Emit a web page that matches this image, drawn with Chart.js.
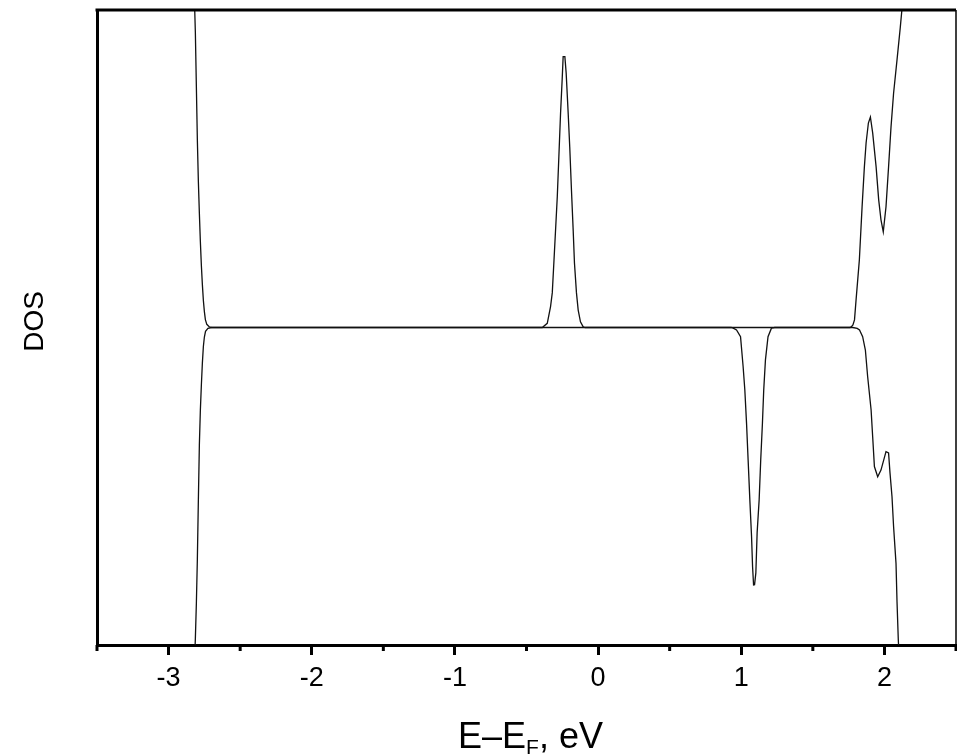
<!DOCTYPE html>
<html>
<head>
<meta charset="utf-8">
<script src="https://cdn.jsdelivr.net/npm/chart.js@4.4.0/dist/chart.umd.min.js"></script>
<style>
  html, body { margin: 0; padding: 0; background: #fff; overflow: hidden; }
  #wrap { width: 957px; height: 756px; position: relative; }
  canvas { display: block; }
</style>
</head>
<body>
<div id="wrap"><canvas id="dos"></canvas></div>
<script>
// x axis: energy relative to Fermi level, eV
const X_MIN = -3.5, X_MAX = 2.5, X_STEP = 0.5;
const Y_MIN = -10, Y_MAX = 10;   // DOS in arbitrary units, no labels shown
const xTickLabels = ['-3', '-2', '-1', '0', '1', '2'];

// spin up (positive)
const upE = [-2.830, -2.813, -2.806, -2.799, -2.792, -2.785, -2.778, -2.771, -2.764, -2.757,
  -2.750, -2.743, -2.733, -2.715, -2.698,
  -0.390, -0.355, -0.332, -0.320, -0.309, -0.297, -0.285, -0.274, -0.262, -0.251,
  -0.244, -0.232, -0.223, -0.209, -0.198, -0.186, -0.174, -0.165, -0.151, -0.139,
  -0.123, -0.104, -0.090,
  1.760, 1.768, 1.780, 1.791, 1.802, 1.825, 1.844, 1.860, 1.872, 1.888, 1.902,
  1.918, 1.942, 1.960, 1.976, 1.992, 2.011, 2.029, 2.046, 2.064, 2.088, 2.111, 2.122, 2.140];
const upDos = [12, 9.3, 7.6, 5.9, 4.6, 3.6, 2.7, 1.95, 1.35, 0.85,
  0.5, 0.25, 0.1, 0.02, 0,
  0, 0.13, 0.66, 1.09, 2.03, 3.07, 4.12, 5.38, 6.76, 7.80,
  8.53, 8.53, 8.02, 6.76, 5.69, 4.33, 3.07, 2.03, 1.09, 0.55,
  0.18, 0.02, 0,
  0, 0.02, 0.08, 0.24, 0.87, 2.13, 3.80, 5.06, 5.81, 6.44, 6.63,
  6.13, 5.06, 4.02, 3.39, 3.01, 3.80, 5.06, 6.31, 7.38, 8.43, 9.46, 10.0, 11.0];

// spin down (negative)
const downE = [-2.830, -2.813, -2.806, -2.799, -2.792, -2.785, -2.778, -2.771, -2.764, -2.757,
  -2.750, -2.742, -2.725, -2.698,
  0.930, 0.944, 0.967, 0.995, 1.013, 1.025, 1.037, 1.048, 1.060, 1.072, 1.079, 1.086,
  1.093, 1.102, 1.111, 1.125, 1.136, 1.148, 1.157, 1.169, 1.187, 1.211, 1.234,
  1.779, 1.810, 1.826, 1.848, 1.867, 1.883, 1.907, 1.918, 1.930, 1.953, 1.976,
  2.011, 2.029, 2.039, 2.053, 2.064, 2.081, 2.088, 2.097, 2.110];
const downDos = [-12, -9.8, -8.7, -7.3, -5.43, -3.7, -2.6, -1.81, -1.12, -0.6,
  -0.3, -0.12, -0.03, 0,
  0, -0.02, -0.08, -0.29, -1.23, -1.97, -3.02, -4.17, -5.43, -6.59, -7.53, -8.11,
  -8.1, -7.73, -6.46, -5.43, -4.17, -3.01, -1.97, -1.02, -0.29, -0.02, 0,
  0, -0.03, -0.08, -0.29, -0.71, -1.55, -2.60, -3.44, -4.38, -4.70, -4.49,
  -3.91, -3.95, -4.58, -5.33, -6.27, -7.43, -8.64, -9.84, -11];

const toPts = (xs, ys) => xs.map((x, i) => ({ x: x, y: ys[i] }));
const FONT = 'Liberation Sans, Arial, sans-serif';

// frame, minor ticks and axis titles
const decor = {
  id: 'decor',
  afterDraw(chart) {
    const { ctx, chartArea: a, scales: { x } } = chart;
    ctx.save();
    ctx.strokeStyle = '#000';
    ctx.lineWidth = 3;
    ctx.beginPath();
    ctx.moveTo(a.left - 1.5, a.top);
    ctx.lineTo(a.right, a.top);
    ctx.stroke();
    ctx.lineWidth = 1.5;
    ctx.beginPath();
    ctx.moveTo(a.right, a.top);
    ctx.lineTo(a.right, a.bottom + 6);
    ctx.stroke();
    // minor ticks at half steps
    ctx.lineWidth = 3;
    x.ticks.forEach(t => {
      if (Number.isInteger(t.value)) return;
      const px = x.getPixelForValue(t.value);
      ctx.beginPath();
      ctx.moveTo(px, a.bottom);
      ctx.lineTo(px, a.bottom + 6);
      ctx.stroke();
    });
    // x title with subscript
    ctx.fillStyle = '#000';
    ctx.textBaseline = 'alphabetic';
    ctx.textAlign = 'left';
    const big = '36px ' + FONT, small = '21px ' + FONT;
    ctx.font = big;
    const w1 = ctx.measureText('E\u2013E').width;
    const w3 = ctx.measureText(', eV').width;
    ctx.font = small;
    const w2 = ctx.measureText('F').width;
    let sx = (a.left + a.right) / 2 + 4 - (w1 + w2 + w3) / 2;
    const by = 748;
    ctx.font = big; ctx.fillText('E\u2013E', sx, by); sx += w1;
    ctx.font = small; ctx.fillText('F', sx, by + 6); sx += w2;
    ctx.font = big; ctx.fillText(', eV', sx, by);
    // y title
    ctx.translate(35, (a.top + a.bottom) / 2 - 6);
    ctx.rotate(-Math.PI / 2);
    ctx.textAlign = 'center';
    ctx.textBaseline = 'middle';
    ctx.font = '28px ' + FONT;
    ctx.fillText('DOS', 0, 0);
    ctx.restore();
  }
};

new Chart(document.getElementById('dos'), {
  type: 'line',
  data: {
    datasets: [
      { data: toPts(upE, upDos), borderColor: '#111', borderWidth: 1.3, pointRadius: 0, tension: 0 },
      { data: toPts(downE, downDos), borderColor: '#111', borderWidth: 1.3, pointRadius: 0, tension: 0 }
    ]
  },
  options: {
    responsive: true,
    maintainAspectRatio: false,
    animation: false,
    layout: { padding: { top: 10, right: 1, left: 0, bottom: 0 } },
    plugins: { legend: { display: false }, tooltip: { enabled: false } },
    scales: {
      x: {
        type: 'linear',
        min: X_MIN, max: X_MAX,
        afterFit(s) { s.height = 111; s.paddingLeft = 0; s.paddingRight = 0; },
        afterBuildTicks(s) {
          s.ticks = [];
          for (let v = X_MIN; v <= X_MAX + 1e-9; v += X_STEP) s.ticks.push({ value: Math.round(v * 10) / 10 });
        },
        ticks: {
          autoSkip: false, maxRotation: 0, padding: 7, color: '#000',
          font: { family: FONT, size: 27 },
          callback: v => {
            const i = xTickLabels.indexOf(String(v));
            return i >= 0 ? xTickLabels[i] : '';
          }
        },
        grid: {
          drawOnChartArea: false, drawTicks: true, tickLength: 10, tickWidth: 3,
          tickColor: c => (c.tick && Number.isInteger(c.tick.value)) ? '#000' : 'rgba(0,0,0,0)'
        },
        border: { display: true, width: 3, color: '#000' }
      },
      y: {
        type: 'linear',
        min: Y_MIN, max: Y_MAX,
        afterFit(s) { s.width = 97; },
        ticks: { display: false },
        grid: { display: false },
        border: { display: true, width: 3, color: '#000' }
      }
    }
  },
  plugins: [decor]
});
</script>
</body>
</html>
